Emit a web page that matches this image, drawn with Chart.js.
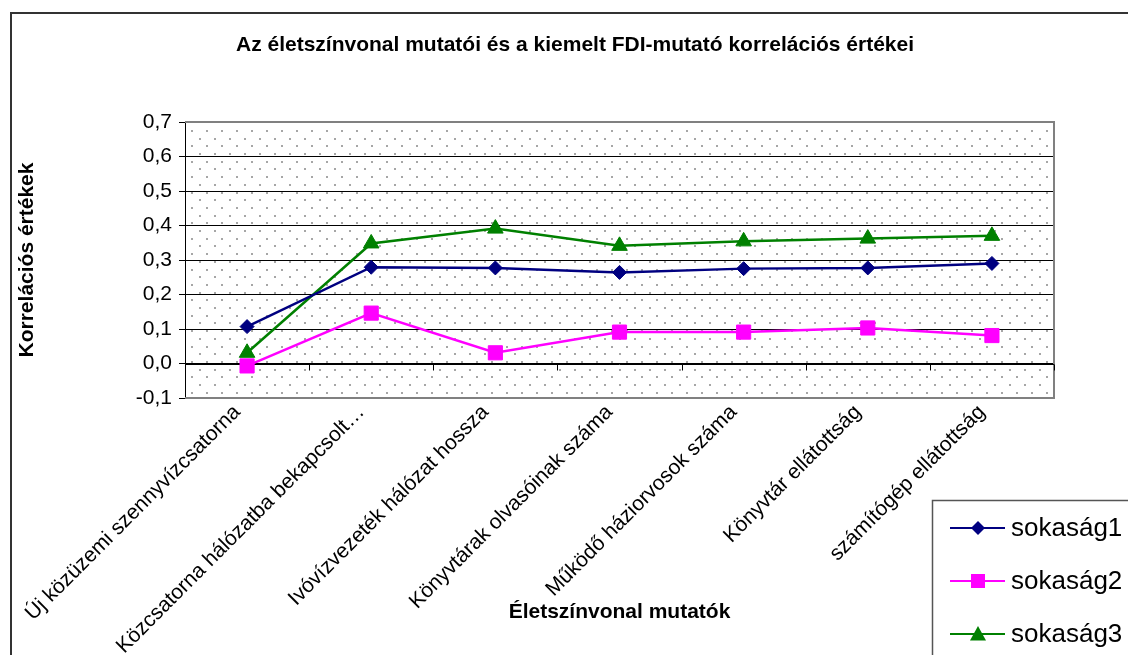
<!DOCTYPE html>
<html>
<head>
<meta charset="utf-8">
<title>Életszínvonal mutatók</title>
<script src="https://cdn.jsdelivr.net/npm/chart.js@4/dist/chart.umd.min.js"></script>
<style>
  html, body { margin: 0; padding: 0; background: #fff; }
  canvas { display: block; }
</style>
</head>
<body>
<canvas id="grafico" width="1128" height="655"></canvas>
<script>
var cimkek = [
    'Új közüzemi szennyvízcsatorna',
    'Közcsatorna hálózatba bekapcsolt…',
    'Ivóvízvezeték hálózat hossza',
    'Könyvtárak olvasóinak száma',
    'Működő háziorvosok száma',
    'Könyvtár ellátottság',
    'számítógép ellátottság'
];
var sokasag1 = [0.107, 0.279, 0.277, 0.264, 0.275, 0.277, 0.290];
var sokasag2 = [-0.007, 0.146, 0.031, 0.091, 0.091, 0.103, 0.081];
var sokasag3 = [0.031, 0.348, 0.391, 0.341, 0.354, 0.362, 0.370];
var sorozatNevek = ['sokaság1', 'sokaság2', 'sokaság3'];
var cim = 'Az életszínvonal mutatói és a kiemelt FDI-mutató korrelációs értékei';

var yMin = -0.1, yMax = 0.7, yLepes = 0.1;

var betu = "'Liberation Sans', Arial, sans-serif";
Chart.defaults.font.family = betu;
Chart.defaults.color = '#000';

function vesszo(v) {
    if (Math.abs(v) < 1e-9) v = 0;
    return Number(v).toFixed(1).replace('.', ',');
}

function szel(v, cel) {
    return Math.abs(v - cel) < 1e-6;
}

// keret, cím, pöttyös háttér, tengely a nullánál
var hatter = {
    id: 'hatter',
    beforeDraw: function(chart) {
        var c = chart.ctx, a = chart.chartArea;
        c.save();
        c.fillStyle = '#fff';
        c.fillRect(0, 0, chart.width, chart.height);
        c.strokeStyle = '#333';
        c.lineWidth = 2;
        c.strokeRect(11, 13, chart.width + 20, chart.height + 20);

        c.fillStyle = '#000';
        c.font = 'bold 21px ' + betu;
        c.textAlign = 'center';
        c.textBaseline = 'middle';
        c.fillText(cim, 575, 45);

        c.fillStyle = '#a6a6a6';
        var sor = 0;
        for (var y = a.top + 8; y < a.bottom - 1; y += 7.7) {
            var x0 = a.left + 6 + (sor % 2 ? 7.5 : 0);
            for (var x = x0; x < a.right - 1; x += 15) {
                c.fillRect(Math.round(x), Math.round(y), 2, 2);
            }
            sor++;
        }
        c.restore();
    },
    beforeDatasetsDraw: function(chart) {
        var c = chart.ctx, a = chart.chartArea;
        var xs = chart.scales.x, ys = chart.scales.y;
        c.save();
        // szürke keret
        c.strokeStyle = '#808080';
        c.lineWidth = 2;
        c.beginPath();
        c.moveTo(a.left, a.top);
        c.lineTo(a.right, a.top);
        c.lineTo(a.right, a.bottom);
        c.lineTo(a.left, a.bottom);
        c.stroke();
        // kategória osztások a 0-s vonalon
        var y0 = Math.round(ys.getPixelForValue(0)) + 0.5;
        c.strokeStyle = '#000';
        c.lineWidth = 1;
        c.beginPath();
        c.moveTo(a.left, y0);
        c.lineTo(a.right, y0);
        for (var i = 0; i <= cimkek.length; i++) {
            var x = i === cimkek.length ? a.right :
                (i === 0 ? a.left : (xs.getPixelForValue(i - 1) + xs.getPixelForValue(i)) / 2);
            x = Math.round(x) + 0.5;
            c.moveTo(x, y0);
            c.lineTo(x, y0 + 6);
        }
        c.stroke();
        c.restore();
    }
};

function jel(c, tipus, x, y, r) {
    c.beginPath();
    if (tipus === 'rectRot') {
        c.moveTo(x, y - r); c.lineTo(x + r, y); c.lineTo(x, y + r); c.lineTo(x - r, y);
    } else if (tipus === 'rect') {
        c.rect(x - r, y - r, 2 * r, 2 * r);
    } else {
        c.moveTo(x, y - r); c.lineTo(x + r, y + r * 0.8); c.lineTo(x - r, y + r * 0.8);
    }
    c.closePath();
    c.fill();
}

// jelmagyarázat doboz a jobb alsó sarokban
var jelmagyarazat = {
    id: 'jelmagyarazat',
    afterDraw: function(chart) {
        var c = chart.ctx;
        var bx = 932, by = 500;
        c.save();
        c.fillStyle = '#fff';
        c.fillRect(bx, by, 300, 300);
        c.strokeStyle = '#555';
        c.lineWidth = 1.5;
        c.strokeRect(bx + 0.5, by + 0.5, 300, 300);

        var meretek = [7, 7, 8];
        chart.data.datasets.forEach(function(ds, i) {
            var y = by + 28 + i * 53;
            c.strokeStyle = ds.borderColor;
            c.lineWidth = 2;
            c.beginPath();
            c.moveTo(bx + 18, y);
            c.lineTo(bx + 73, y);
            c.stroke();
            c.fillStyle = ds.borderColor;
            jel(c, ds.pointStyle, bx + 46, y, meretek[i]);
            c.fillStyle = '#000';
            c.font = '26px ' + betu;
            c.textBaseline = 'middle';
            c.fillText(ds.label, bx + 79, y + 1);
        });
        c.restore();
    }
};

function sorozat(nev, adat, szin, stilus, r) {
    return {
        label: nev,
        data: adat,
        borderColor: szin,
        backgroundColor: szin,
        pointBackgroundColor: szin,
        pointBorderColor: szin,
        pointStyle: stilus,
        pointRadius: r,
        pointBorderWidth: 1,
        borderWidth: 2.5,
        tension: 0,
        fill: false
    };
}

new Chart(document.getElementById('grafico'), {
    type: 'line',
    data: {
        labels: cimkek,
        datasets: [
            sorozat(sorozatNevek[0], sokasag1, '#000080', 'rectRot', 7),
            sorozat(sorozatNevek[1], sokasag2, '#ff00ff', 'rect', 10),
            sorozat(sorozatNevek[2], sokasag3, '#008000', 'triangle', 9)
        ]
    },
    options: {
        responsive: false,
        animation: false,
        devicePixelRatio: 1,
        layout: { padding: { left: 10, right: 74, top: 122, bottom: 0 } },
        plugins: {
            legend: { display: false },
            tooltip: { enabled: false },
            title: { display: false }
        },
        scales: {
            x: {
                type: 'category',
                offset: true,
                grid: { display: false },
                border: { display: false },
                ticks: {
                    autoSkip: false,
                    maxRotation: 45,
                    minRotation: 45,
                    padding: -6,
                    labelOffset: -10,
                    font: { size: 21 },
                    color: '#000'
                },
                title: {
                    display: true,
                    text: 'Életszínvonal mutatók',
                    font: { size: 21, weight: 'bold' },
                    color: '#000',
                    padding: { top: 30, bottom: 30 }
                },
                afterFit: function(s) { s.height = 257; }
            },
            y: {
                min: yMin,
                max: yMax,
                grid: {
                    color: function(k) {
                        if (!k.tick) return '#000';
                        return (szel(k.tick.value, yMin) || szel(k.tick.value, yMax)) ? 'rgba(0,0,0,0)' : '#000';
                    },
                    tickColor: '#000',
                    tickLength: 6,
                    lineWidth: 1
                },
                border: { display: true, color: '#000', width: 1 },
                ticks: {
                    stepSize: yLepes,
                    padding: 7,
                    font: { size: 21 },
                    color: '#000',
                    callback: function(v) { return vesszo(v); }
                },
                title: {
                    display: true,
                    text: 'Korrelációs értékek',
                    font: { size: 21, weight: 'bold' },
                    color: '#000',
                    padding: { top: 5, bottom: 5 }
                },
                afterFit: function(s) { s.width = 175; }
            }
        }
    },
    plugins: [hatter, jelmagyarazat]
});
</script>
</body>
</html>
